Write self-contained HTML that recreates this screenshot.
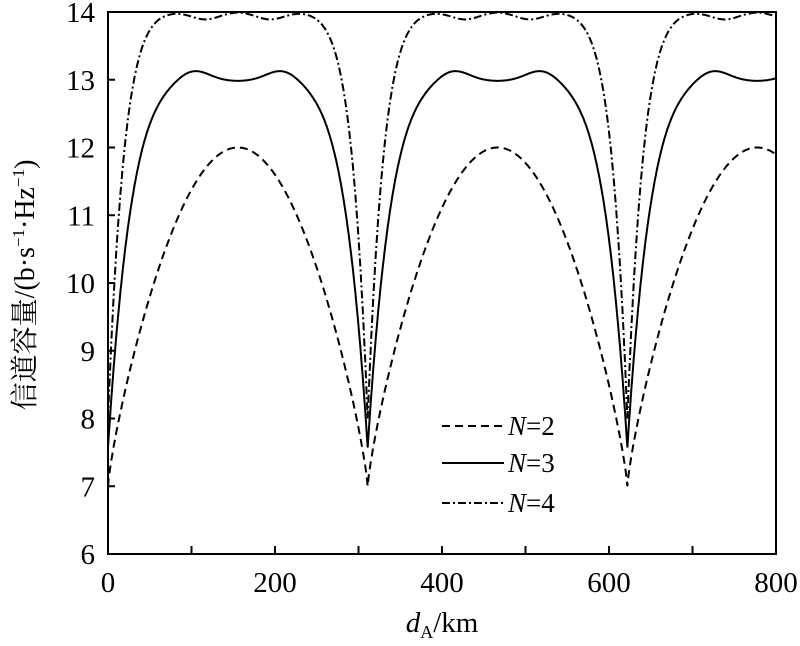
<!DOCTYPE html>
<html><head><meta charset="utf-8"><style>
body{margin:0;background:#fff;}
svg{display:block;}
text{font-family:"Liberation Serif","Noto Serif CJK SC",serif;fill:#000;}
</style></head><body>
<svg id="s" width="800" height="646" viewBox="0 0 800 646" xmlns="http://www.w3.org/2000/svg">
<defs><clipPath id="c"><rect x="108" y="11" width="668" height="544"/></clipPath></defs>
<g id="curves" clip-path="url(#c)" fill="none" stroke="#000" stroke-width="2"></g>
<rect x="108" y="12" width="668" height="542" fill="none" stroke="#000" stroke-width="2"/>
<g id="ticks" stroke="#000" stroke-width="2"></g>
<g font-size="29" text-anchor="end" id="yl"></g>
<g font-size="29" text-anchor="middle" id="xl"></g>
<g stroke="#000" stroke-width="2">
<line x1="442" y1="426" x2="504" y2="426" stroke-dasharray="8,5"/>
<line x1="442" y1="463" x2="504" y2="463"/>
<line x1="442" y1="503" x2="504" y2="503" stroke-dasharray="8,3,2,3"/>
</g>
<g font-size="27">
<text x="508" y="435"><tspan font-style="italic">N</tspan>=2</text>
<text x="508" y="472"><tspan font-style="italic">N</tspan>=3</text>
<text x="508" y="512"><tspan font-style="italic">N</tspan>=4</text>
</g>
<text x="442" y="632" font-size="29" text-anchor="middle"><tspan font-style="italic">d</tspan><tspan font-size="18" dy="6">A</tspan><tspan dy="-6">/km</tspan></text>
<text transform="translate(34,285) rotate(-90)" font-size="28" text-anchor="middle">信道容量/(b·s<tspan font-size="17" dy="-10">−1</tspan><tspan dy="10">·Hz</tspan><tspan font-size="17" dy="-10">−1</tspan><tspan dy="10">)</tspan></text>
</svg>
<script>
var X=function(d){return 108+d*0.835;},Y=function(v){return 554-(v-6)*67.75;};
var ns="http://www.w3.org/2000/svg";
function add(p,tag,a,txt){var e=document.createElementNS(ns,tag);for(var k in a)e.setAttribute(k,a[k]);if(txt!=null)e.textContent=txt;document.getElementById(p).appendChild(e);}
for(var v=6;v<=14;v++){var y=Y(v);add("ticks","line",{x1:108,y1:y,x2:115,y2:y});add("yl","text",{x:95,y:y+10},v);}
for(var d=0;d<=800;d+=100){var x=X(d);add("ticks","line",{x1:x,y1:554,x2:x,y2:546});if(d%200==0)add("xl","text",{x:x,y:592},d);}
var P=311,H=P/2;
function tt(d){var m=d%P;var dist=Math.min(m,P-m);return dist/H;}
function f2(d){var t=tt(d);return 7+5*Math.pow(Math.sin(Math.PI*t/2),0.8);}
function f3(d){var t=tt(d);return 7.57+5.41*(1-Math.pow(1-t,5.5))+0.16*Math.exp(-Math.pow((t-0.66)/0.17,2));}
function f4(d){var t=tt(d);return 8.0+6.0*(1-Math.pow(1-t,8))-0.11*Math.exp(-Math.pow((t-0.75)/0.15,2));}
function path(f,dash){var s="";for(var d=0;d<=800;d+=1){s+=(d?"L":"M")+X(d).toFixed(1)+","+Y(Math.min(f(d),14.02)).toFixed(1);}
var a={d:s};if(dash)a["stroke-dasharray"]=dash;add("curves","path",a);}
path(f2,"8,5");path(f3,null);path(f4,"8,3,2,3");
</script>
</body></html>
